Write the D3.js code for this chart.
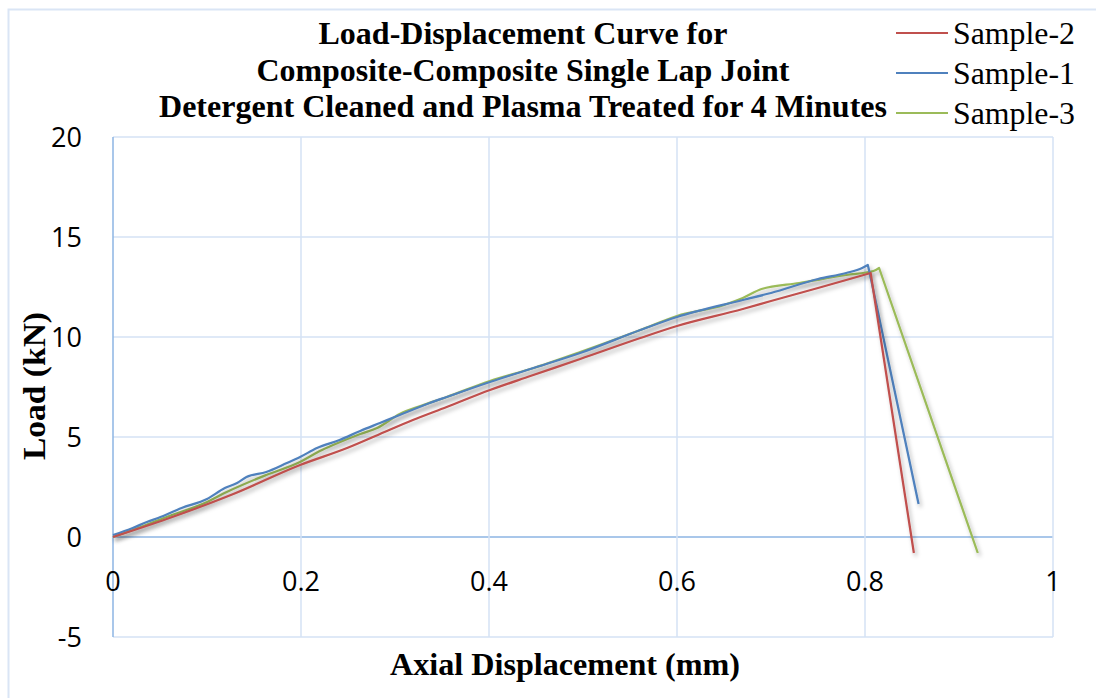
<!DOCTYPE html>
<html>
<head>
<meta charset="utf-8">
<script src="https://cdn.jsdelivr.net/npm/d3@7"></script>
<style>
  body { margin: 0; background: #fff; }
  svg { display: block; }
</style>
</head>
<body>
<div id="chart"></div>
<script>
var WIDTH = 1096, HEIGHT = 698;

var titleLines = ['Load-Displacement Curve for',
                  'Composite-Composite Single Lap Joint',
                  'Detergent Cleaned and Plasma Treated for 4 Minutes'];
var titleWidths = [409, 533, 728];

var xTicks = [0, 0.2, 0.4, 0.6, 0.8, 1];
var yTicks = [-5, 0, 5, 10, 15, 20];

// Sample-1 (blue)
var s1X = [0, 0.021, 0.036, 0.048, 0.073, 0.1, 0.119, 0.132, 0.142, 0.163, 0.185, 0.199, 0.217, 0.241, 0.263, 0.284, 0.305, 0.337, 0.355, 0.401, 0.444, 0.497, 0.561, 0.6, 0.67, 0.7, 0.75, 0.78, 0.797, 0.803, 0.805, 0.857];
var s1Y = [0.1, 0.45, 0.75, 0.95, 1.45, 1.9, 2.45, 2.7, 3.0, 3.25, 3.7, 4.0, 4.45, 4.85, 5.3, 5.7, 6.1, 6.7, 7.0, 7.75, 8.4, 9.2, 10.35, 11.0, 11.85, 12.2, 12.9, 13.2, 13.45, 13.6, 13.2, 1.65];

// Sample-2 (red)
var s2X = [0, 0.057, 0.128, 0.199, 0.249, 0.284, 0.319, 0.355, 0.401, 0.444, 0.497, 0.561, 0.6, 0.67, 0.7, 0.75, 0.78, 0.806, 0.852];
var s2Y = [0, 0.9, 2.15, 3.6, 4.45, 5.15, 5.85, 6.5, 7.35, 8.05, 8.9, 9.95, 10.55, 11.4, 11.8, 12.45, 12.85, 13.2, -0.8];

// Sample-3 (green)
var s3X = [0, 0.015, 0.057, 0.1, 0.121, 0.163, 0.199, 0.22, 0.234, 0.263, 0.281, 0.305, 0.327, 0.355, 0.401, 0.444, 0.497, 0.561, 0.6, 0.65, 0.67, 0.69, 0.73, 0.78, 0.809, 0.815, 0.92];
var s3Y = [0, 0.25, 1.0, 1.75, 2.25, 3.1, 3.75, 4.3, 4.6, 5.15, 5.45, 6.15, 6.55, 7.0, 7.8, 8.4, 9.25, 10.35, 11.05, 11.6, 11.95, 12.4, 12.7, 13.1, 13.3, 13.45, -0.8];

var seriesNames = ['Sample-2', 'Sample-1', 'Sample-3'];
var seriesColors = ['#C0504D', '#4F81BD', '#9BBB59'];
var seriesX = [s2X, s1X, s3X];
var seriesY = [s2Y, s1Y, s3Y];

var SERIF = '"Liberation Serif", "Times New Roman", serif';
var SANS = '"Open Sans", "Liberation Sans", sans-serif';

var svg = d3.select('#chart').append('svg').attr('width', WIDTH).attr('height', HEIGHT);

// drop shadow like the spreadsheet's line effect
var defs = svg.append('defs');
var f = defs.append('filter').attr('id', 'shadow')
  .attr('x', '-10%').attr('y', '-10%').attr('width', '130%').attr('height', '130%');
f.append('feDropShadow').attr('dx', 2).attr('dy', 3).attr('stdDeviation', 2)
  .attr('flood-color', '#000').attr('flood-opacity', 0.3);

// outer chart frame
svg.append('rect').attr('x', 8.5).attr('y', 9.5).attr('width', 1200).attr('height', 800)
  .attr('fill', 'none').attr('stroke', '#DAE5F5').attr('stroke-width', 2);

var x = d3.scaleLinear().domain([0, 1]).range([113, 1053]);
var y = d3.scaleLinear().domain([-5, 20]).range([637, 137]);

// gridlines
svg.append('g').selectAll('line').data(yTicks).enter().append('line')
  .attr('x1', x(0)).attr('x2', x(1))
  .attr('y1', function (d) { return y(d); }).attr('y2', function (d) { return y(d); })
  .attr('stroke', function (d) { return d === 0 ? '#8DB4E3' : '#D5E2F4'; })
  .attr('stroke-width', 1.5);

svg.append('g').selectAll('line').data(xTicks).enter().append('line')
  .attr('y1', y(-5)).attr('y2', y(20))
  .attr('x1', function (d) { return x(d); }).attr('x2', function (d) { return x(d); })
  .attr('stroke', function (d) { return d === 0 ? '#8DB4E3' : '#D5E2F4'; })
  .attr('stroke-width', 1.5);

// tick labels
svg.append('g').selectAll('text').data(yTicks).enter().append('text')
  .attr('x', 82).attr('y', function (d) { return y(d) + 10; })
  .attr('text-anchor', 'end')
  .style('font-family', SANS).style('font-size', '27px')
  .text(function (d) { return d; });

svg.append('g').selectAll('text').data(xTicks).enter().append('text')
  .attr('x', function (d) { return x(d); }).attr('y', y(0) + 54)
  .attr('text-anchor', 'middle')
  .style('font-family', SANS).style('font-size', '27px')
  .text(function (d) { return d; });

// lines: smoothed rise up to the peak, straight drop after it
var smooth = d3.line()
  .x(function (d) { return x(d[0]); })
  .y(function (d) { return y(d[1]); })
  .curve(d3.curveMonotoneX);
var straight = d3.line()
  .x(function (d) { return x(d[0]); })
  .y(function (d) { return y(d[1]); });

var plotOrder = [2, 1, 0];
plotOrder.forEach(function (i) {
  var pts = seriesX[i].map(function (v, k) { return [v, seriesY[i][k]]; });
  var peak = d3.maxIndex(pts, function (d) { return d[1]; });
  var rise = pts.slice(0, peak + 1);
  var drop = pts.slice(peak);
  var d = smooth(rise) + straight(drop).replace(/^M/, 'L');
  svg.append('path')
    .attr('d', d)
    .attr('fill', 'none')
    .attr('stroke', seriesColors[i])
    .attr('stroke-width', 2.25)
    .attr('stroke-linejoin', 'round')
    .attr('filter', 'url(#shadow)');
});

// title
svg.append('g').selectAll('text').data(titleLines).enter().append('text')
  .attr('x', 523).attr('y', function (d, i) { return 44 + i * 36.5; })
  .attr('text-anchor', 'middle')
  .attr('textLength', function (d, i) { return titleWidths[i]; })
  .attr('lengthAdjust', 'spacingAndGlyphs')
  .style('font-family', SERIF)
  .style('font-weight', 'bold').style('font-size', '31px')
  .text(function (d) { return d; });

// legend
var lg = svg.append('g');
seriesNames.forEach(function (name, i) {
  var ly = 33 + i * 40;
  lg.append('line').attr('x1', 896).attr('x2', 948).attr('y1', ly).attr('y2', ly)
    .attr('stroke', seriesColors[i]).attr('stroke-width', 2);
  lg.append('text').attr('x', 953).attr('y', ly + 11)
    .attr('textLength', 122).attr('lengthAdjust', 'spacingAndGlyphs')
    .style('font-family', SERIF)
    .style('font-size', '31px')
    .text(name);
});

// axis titles
svg.append('text')
  .attr('x', 565).attr('y', 675).attr('text-anchor', 'middle')
  .attr('textLength', 350).attr('lengthAdjust', 'spacingAndGlyphs')
  .style('font-family', SERIF)
  .style('font-weight', 'bold').style('font-size', '31px')
  .text('Axial Displacement (mm)');

svg.append('text')
  .attr('transform', 'translate(45,386) rotate(-90)').attr('text-anchor', 'middle')
  .attr('textLength', 148).attr('lengthAdjust', 'spacingAndGlyphs')
  .style('font-family', SERIF)
  .style('font-weight', 'bold').style('font-size', '31px')
  .text('Load (kN)');
</script>
</body>
</html>
